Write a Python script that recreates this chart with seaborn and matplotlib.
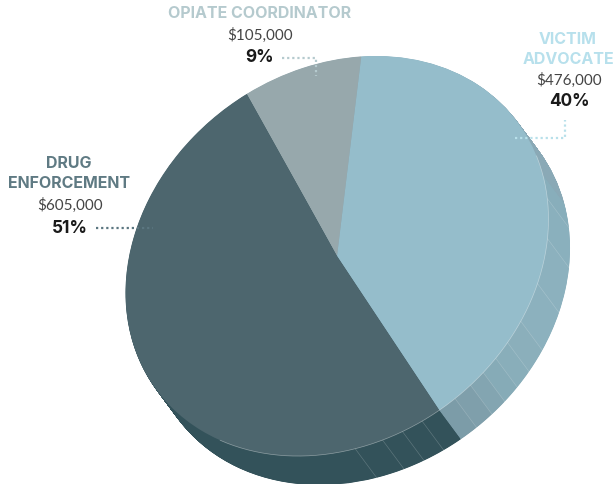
import numpy as np
import matplotlib
matplotlib.use("Agg")
import matplotlib.pyplot as plt
from matplotlib.transforms import Affine2D
import seaborn as sns

# Chart values
categories = ["VICTIM\nADVOCATE", "OPIATE COORDINATOR", "DRUG\nENFORCEMENT"]
amounts = [476000, 105000, 605000]
money_labels = ["$476,000", "$105,000", "$605,000"]
pct_labels = ["40%", "9%", "51%"]

# Appearance
top_colors = ["#95bdcb", "#97a8ac", "#4d666e"]
title_colors = ["#b7e0ec", "#b5cace", "#5f7a83"]
facet_degrees = [160, 7.5, 5.6, 5.7, 5.2, 5, 5.2, 4.6, 4.9, 5.1, 6.6, 11.1, 12.9, 11.7, 7.4, 70, 31.5]
facet_colors = ["#33525a"] * 5 + ["#7c9ca8", "#7f9fab", "#83a5b1", "#86abb7", "#89aeba",
                                  "#8bafbb", "#8cb1be", "#8cb1be", "#8ab0bd", "#88aebb",
                                  "#8aa9b6", "#8aa9b6"]

sns.set_theme(style="white")
plt.rcParams["font.family"] = ["Lato", "DejaVu Sans"]

fig, ax = plt.subplots(figsize=(6.14, 4.85), dpi=100)
fig.subplots_adjust(0, 0, 1, 1)

START = -92.5
face = Affine2D().scale(224.8, 185).rotate_deg(36.6).scale(1, -1).translate(337, 257)
DX, DY = 21.5, 29


def draw_pie(sizes, colors, start, dx=0.0, dy=0.0):
    wedges, _ = ax.pie(sizes, colors=colors, startangle=start, counterclock=True,
                       wedgeprops={"linewidth": 0})
    tr = face + Affine2D().translate(dx, dy) + ax.transData
    for w in wedges:
        w.set_transform(tr)
    return wedges


# Extruded side: stack of copies from the bottom of the pie up to the top face
for t in np.linspace(1, 0.01, 100):
    draw_pie(facet_degrees, facet_colors, START - sum(facet_degrees[:5]), DX * t, DY * t)

# Top face
draw_pie(amounts, top_colors, START)

ax.set_aspect("auto")
ax.set_xlim(0, 614)
ax.set_ylim(485, 0)
ax.set_xticks([])
ax.set_yticks([])
ax.set_frame_on(False)


def on_rim(deg):
    r = np.radians(deg)
    return face.transform(np.column_stack([np.cos(r), np.sin(r)]))


# Hairlines between side facets and rim of the top face
edges = START - sum(facet_degrees[:5]) + np.cumsum(facet_degrees)
for e in edges[:14]:
    if abs(e - START) < 0.01:
        continue
    p = on_rim(np.array([e]))[0]
    ax.plot([p[0], p[0] + DX], [p[1], p[1] + DY], color="white", alpha=0.22, lw=0.45,
            solid_capstyle="butt")
rim = on_rim(np.linspace(-155, -12, 200))
ax.plot(rim[:, 0], rim[:, 1], color="white", alpha=0.4, lw=0.5)

# Text
TITLE = dict(ha="center", va="center", fontsize=11.5, fontweight="bold", family=["Inter", "Lato"])
MONEY = dict(ha="center", va="center", fontsize=11, color="#444444", fontweight="normal")
PCT = dict(ha="center", va="center", fontsize=12.4, color="#1a1a1a", fontweight="bold", family=["Inter", "Lato"])

ax.text(260, 14, categories[1], color=title_colors[1], **TITLE)
ax.text(260, 35.5, money_labels[1], **MONEY)
ax.text(260, 57, pct_labels[1], **PCT)

for y, s in zip((164, 184), categories[2].split("\n")):
    ax.text(69, y, s, color=title_colors[2], **TITLE)
ax.text(70, 205.5, money_labels[2], **MONEY)
ax.text(70, 228.5, pct_labels[2], **PCT)

for y, s in zip((39, 59), categories[0].split("\n")):
    ax.text(568, y, s, color=title_colors[0], **TITLE)
ax.text(569, 80, money_labels[0], **MONEY)
ax.text(569, 101, pct_labels[0], **PCT)

# Dotted leaders
DOT = dict(lw=1.6, linestyle=(0, (1, 1.3)), dash_capstyle="butt")
ax.plot([282, 316, 316], [59, 59, 77], color="#b5cace", **DOT)
ax.plot([96, 153], [229, 229], color="#5b7680", **DOT)
ax.plot([515, 565, 565], [138.5, 138.5, 121], color="#b8e0ea", **DOT)

sns.despine(ax=ax, left=True, bottom=True)
fig.savefig("out.png", dpi=100)
